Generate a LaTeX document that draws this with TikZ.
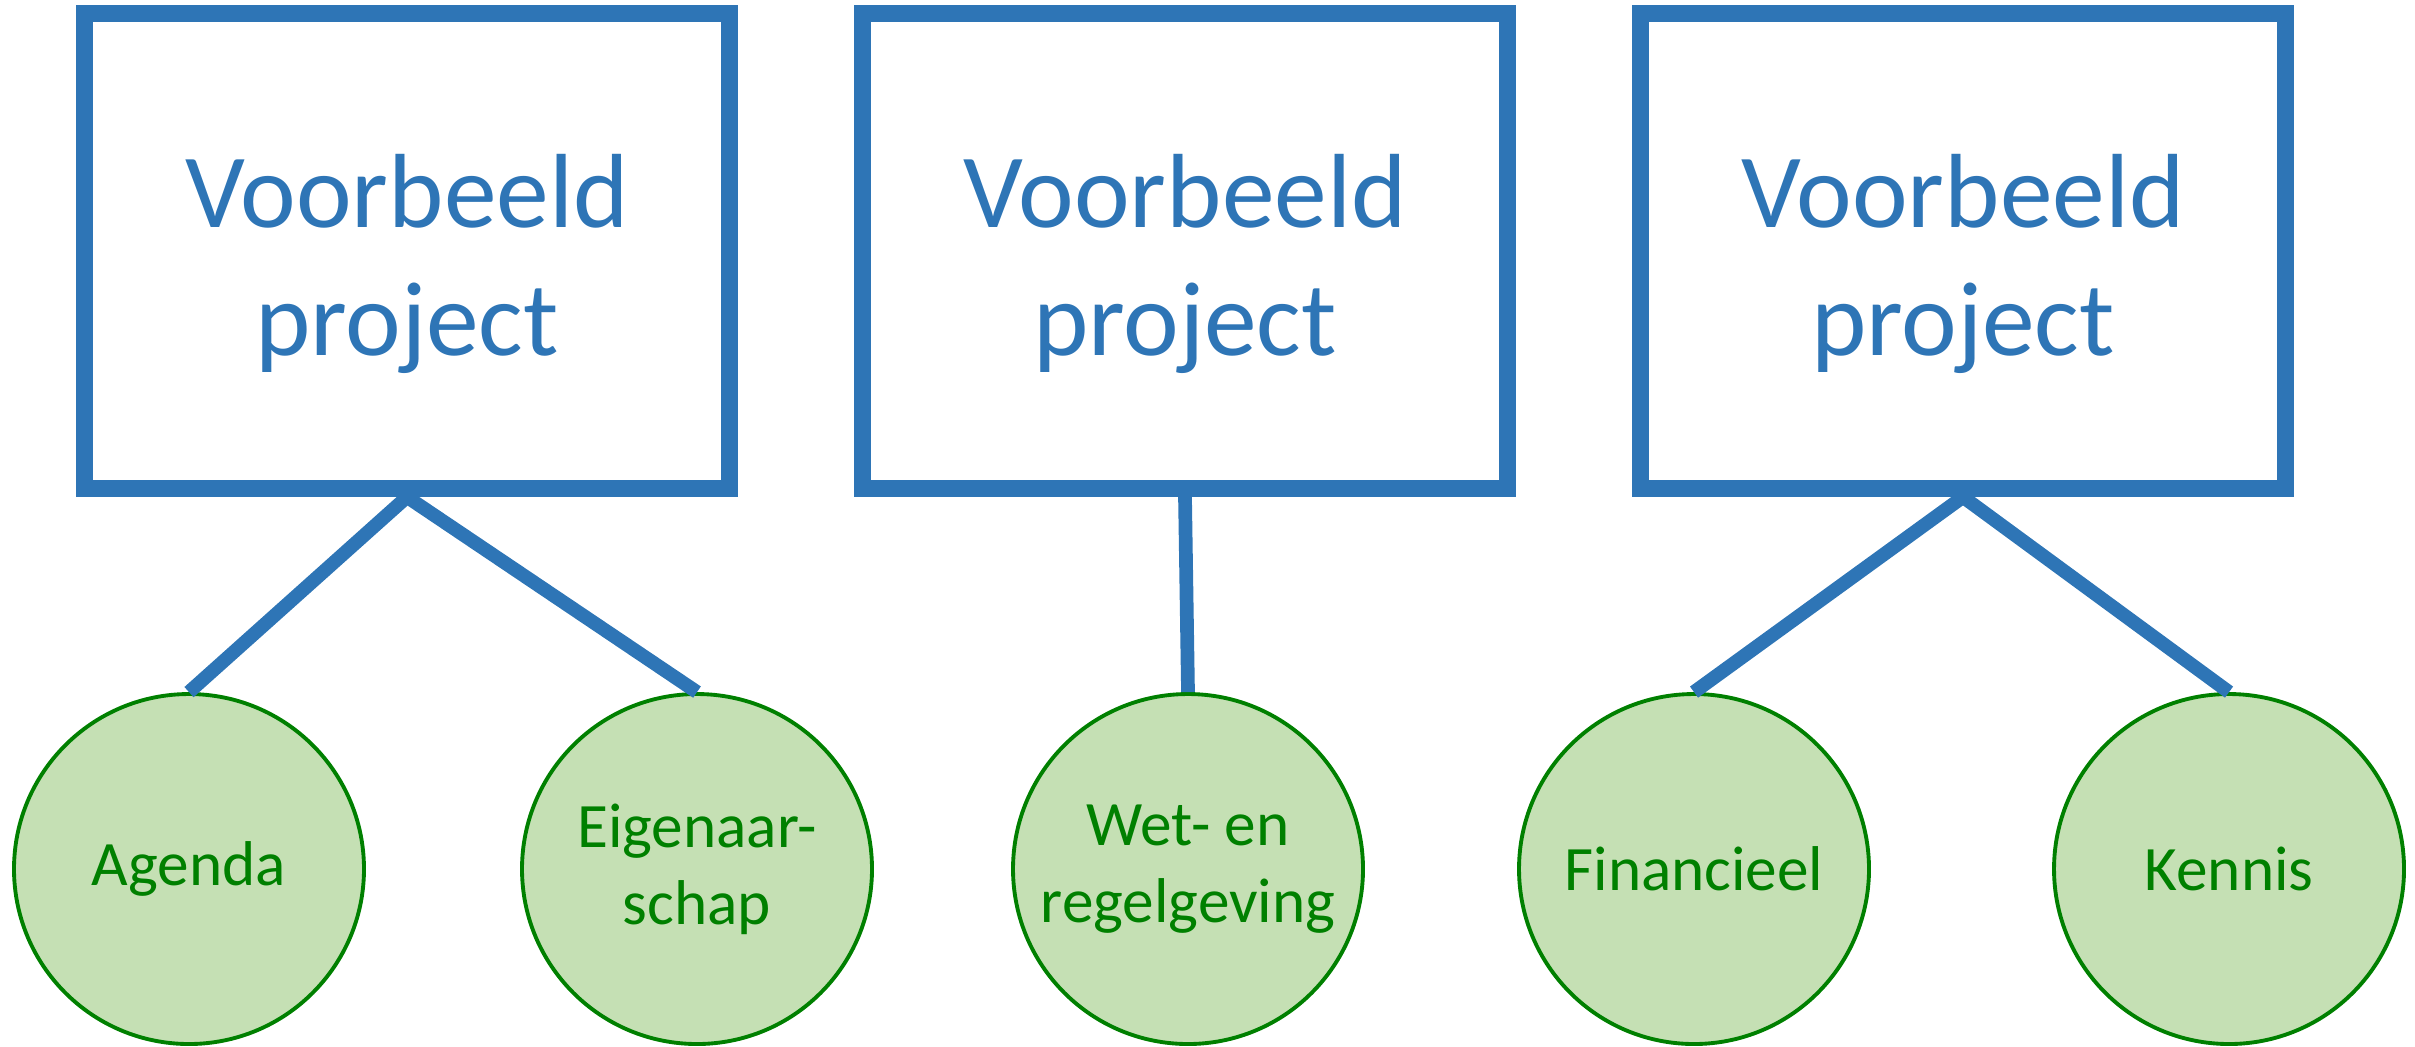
\documentclass[tikz,border=0pt]{standalone}
\usepackage{fontspec}
\setmainfont{Carlito}
\definecolor{projblue}{HTML}{2E75B6}
\definecolor{aspfill}{HTML}{C5E0B4}
\definecolor{aspgreen}{HTML}{008000}

\begin{document}
\begin{tikzpicture}[x=0.1mm, y=-0.1mm,
  proj/.style={rectangle, draw=projblue, line width=4.8pt,
    minimum width=64.5mm, minimum height=47.5mm, inner sep=0pt,
    text height=64.5pt, align=center, text=projblue,
    font=\fontsize{30}{36.5}\selectfont},
  aspect/.style={circle, draw=aspgreen, fill=aspfill, line width=1.1pt,
    minimum size=35mm, inner sep=0pt,
    align=center, text=aspgreen, font=\fontsize{18}{22}\selectfont},
  link/.style={draw=projblue, line width=3.9pt}]
  \useasboundingbox (0,0) rectangle (2415,1046);
  % projects
  \node [proj] (proj1) at (407,251) {Voorbeeld\\project};
  \node [proj] (proj2) at (1185,251) {Voorbeeld\\project};
  \node [proj] (proj3) at (1963,251) {Voorbeeld\\project};
  % aspects
  \node [aspect] (agenda) at (189,869) {Agenda};
  \node [aspect] (eigen) at (697,869) {Eigenaar-\\schap};
  \node [aspect] (wet) at (1188,869) {Wet- en\\regelgeving};
  \node [aspect] (fin) at (1694,869) {Financieel};
  \node [aspect] (kennis) at (2229,869) {Kennis};
  % links
  \draw [link] (proj1.south) -- (agenda.north);
  \draw [link] (proj1.south) -- (eigen.north);
  \draw [link] (proj2.south) -- (wet.north);
  \draw [link] (proj3.south) -- (fin.north);
  \draw [link] (proj3.south) -- (kennis.north);
\end{tikzpicture}
\end{document}
